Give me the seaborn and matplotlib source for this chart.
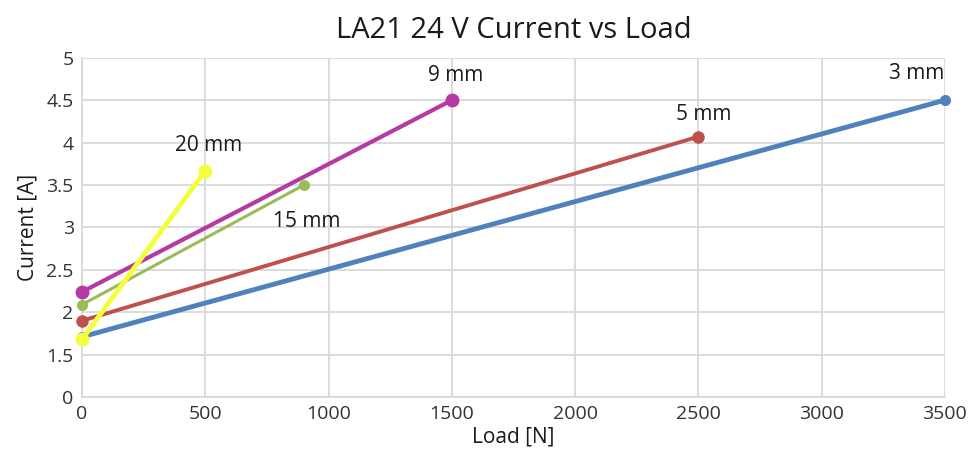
import pandas as pd
import matplotlib
matplotlib.use("Agg")
import matplotlib.pyplot as plt
import seaborn as sns

# --- data ---
series_names = ['3 mm', '5 mm', '9 mm', '15 mm', '20 mm']
load_start = [0, 0, 0, 0, 0]
load_end = [3500, 2500, 1500, 900, 500]
current_start = [1.71, 1.90, 2.24, 2.09, 1.68]
current_end = [4.50, 4.07, 4.50, 3.50, 3.67]
colors = ['#4F81BD', '#C0504D', '#B63AA4', '#9BBB59', '#F2FF3A']

ytick_vals = [1, 1.5, 2, 2.5, 3, 3.5, 4, 4.5, 5]
ytick_labels = ['0', '1.5', '2', '2.5', '3', '3.5', '4', '4.5', '5']

rows = []
for name, x0, x1, y0, y1 in zip(series_names, load_start, load_end, current_start, current_end):
    rows.append({'series': name, 'load': x0, 'current': y0})
    rows.append({'series': name, 'load': x1, 'current': y1})
df = pd.DataFrame(rows)

sns.set_style("white")
plt.rcParams['font.family'] = ['Open Sans', 'DejaVu Sans']

fig, ax = plt.subplots(figsize=(9.77, 4.66), dpi=100)
fig.subplots_adjust(left=0.084, right=0.967, bottom=0.148, top=0.876)

# line width / marker size per series (drawn in this order so yellow is on top)
widths = {'3 mm': 3.5, '5 mm': 2.8, '9 mm': 3.0, '15 mm': 2.2, '20 mm': 3.5}
msizes = {'3 mm': 8, '5 mm': 9, '9 mm': 10, '15 mm': 8, '20 mm': 10}
for name, col in zip(series_names, colors):
    sub = df[df['series'] == name]
    sns.lineplot(data=sub, x='load', y='current', ax=ax, color=col,
                 linewidth=widths[name], marker='o', markersize=msizes[name],
                 markeredgewidth=0, zorder=3, clip_on=False)

# series labels
offsets = {'3 mm': (-20, 19), '5 mm': (4, 16), '9 mm': (3, 18),
           '15 mm': (2, -26), '20 mm': (2, 18)}
for name, x1, y1 in zip(series_names, load_end, current_end):
    dx, dy = offsets[name]
    ax.annotate(name, (x1, y1), xytext=(dx, dy), textcoords='offset points',
                ha='center', va='center', fontsize=15, color='#1a1a1a')

ax.set_xlim(0, 3500)
ax.set_ylim(1, 5)
ax.set_xticks(range(0, 3501, 500))
ax.set_yticks(ytick_vals)
ax.set_yticklabels(ytick_labels)
ax.grid(True, color='#d9d9d9', linewidth=1.3)
ax.set_axisbelow(True)
for side in ['top', 'right']:
    ax.spines[side].set_visible(False)
for side in ['left', 'bottom']:
    ax.spines[side].set_color('#d9d9d9')
    ax.spines[side].set_linewidth(1.3)
ax.tick_params(axis='both', labelsize=14, colors='#333333', length=0, pad=6)

ax.set_title('LA21 24 V Current vs Load', fontsize=21, color='#1a1a1a', pad=14)
ax.set_xlabel('Load [N]', fontsize=15, color='#1a1a1a', labelpad=2)
ax.set_ylabel('Current [A]', fontsize=15, color='#1a1a1a', labelpad=6)

plt.savefig('out.png', dpi=100)
